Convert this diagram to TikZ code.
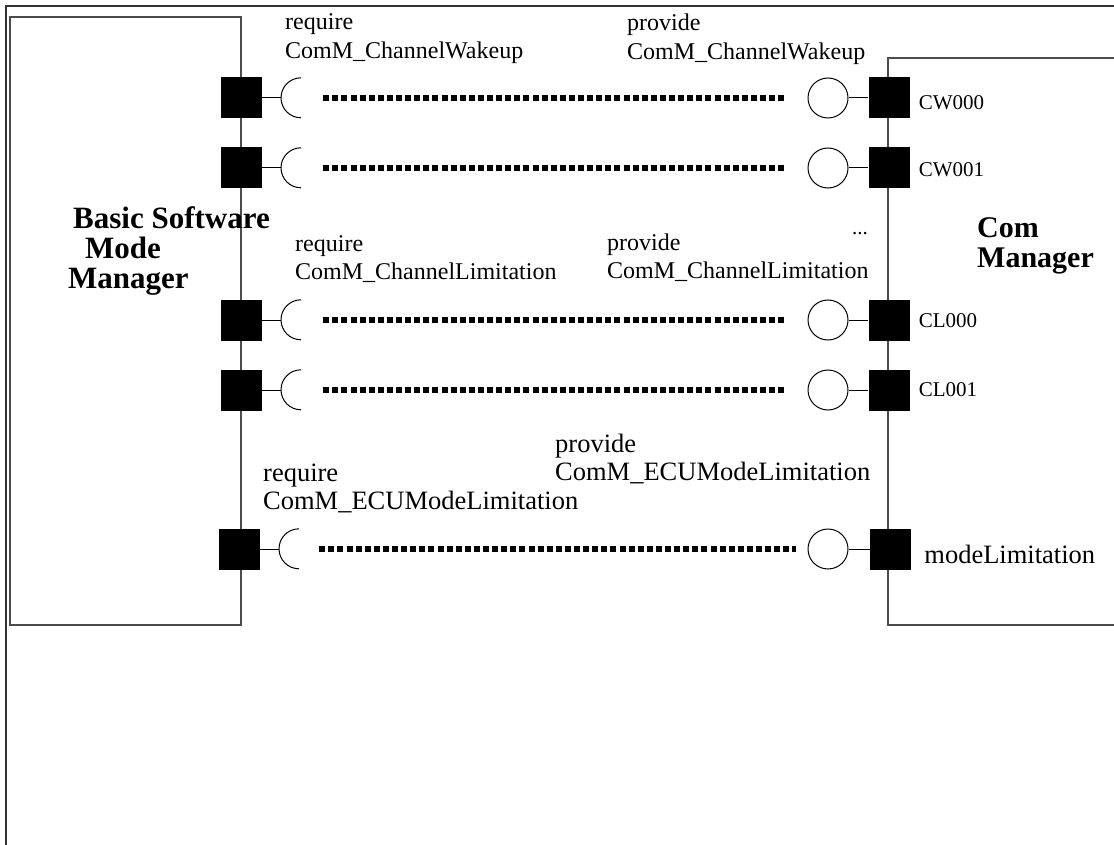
\documentclass[tikz,border=0pt]{standalone}
\usepackage{fontspec}
\setmainfont{Liberation Serif}
\usetikzlibrary{positioning}

\tikzset{
  frame/.style={draw=black!80, line width=2pt},
  compbox/.style={draw=black!70, line width=1.4pt},
  port/.style={fill=black, minimum size=41pt, inner sep=0pt},
  provport/.style={circle, draw, line width=1pt, minimum size=40pt, inner sep=0pt},
  reqport/.style={circle, minimum size=40pt, inner sep=0pt},
  wire/.style={line width=1pt},
  dotline/.style={line width=6pt, dash pattern=on 6pt off 3.1pt, shorten <=2pt, shorten >=21pt},
  ifname/.style={inner sep=0pt, align=left, anchor=north west, font=\fontsize{24}{29}\selectfont},
  portname/.style={inner sep=0pt, font=\fontsize{21}{24}\selectfont},
  compname/.style={inner sep=0pt, align=left, anchor=north west, font=\bfseries\fontsize{31}{30}\selectfont},
}

\begin{document}
\begin{tikzpicture}[x=1pt,y=-1pt]
    \useasboundingbox (0,0) rectangle (1114,845);
    % Frames
    \draw[frame] (6,845) -- (6,6) -- (1114,6);
    \draw[compbox] (10,17) rectangle (241,625);
    \draw[compbox] (1114,58) -- (888,58) -- (888,625) -- (1114,625);
    % Component names
    \node[compname] (bswm) at (68,206) {\hspace*{5pt}Basic Software\\\hspace*{17pt}Mode\\Manager};
    \node[compname, font=\bfseries\fontsize{30}{30}\selectfont] (comm) at (977,217) {Com\\Manager};
    % Ports of the mode manager
    \node[port] (lp1) at (241,98) {};
    \node[port] (lp2) at (241,168) {};
    \node[port] (lp3) at (241,320) {};
    \node[port] (lp4) at (241,390) {};
    \node[port] (lp5) at (239.5,549) {};
    % Ports of the com manager
    \node[port] (rp1) at (889,98) {};
    \node[port] (rp2) at (889,168) {};
    \node[port] (rp3) at (889,320) {};
    \node[port] (rp4) at (889,390) {};
    \node[port] (rp5) at (890.5,549) {};
    % Required interfaces
    \node[reqport] (req1) at (301,98) {};
    \node[reqport] (req2) at (301,168) {};
    \node[reqport] (req3) at (301,320) {};
    \node[reqport] (req4) at (301,390) {};
    \node[reqport] (req5) at (299,549) {};
    % Provided interfaces
    \node[provport] (prov1) at (828,98) {};
    \node[provport] (prov2) at (828,168) {};
    \node[provport] (prov3) at (828,320) {};
    \node[provport] (prov4) at (828,390) {};
    \node[provport] (prov5) at (828,549) {};
    % Sockets
    \draw[wire] (lp1) -- (req1.west);
    \draw[wire] (req1.north) arc (270:90:20);
    \draw[wire] (lp2) -- (req2.west);
    \draw[wire] (req2.north) arc (270:90:20);
    \draw[wire] (lp3) -- (req3.west);
    \draw[wire] (req3.north) arc (270:90:20);
    \draw[wire] (lp4) -- (req4.west);
    \draw[wire] (req4.north) arc (270:90:20);
    \draw[wire] (lp5) -- (req5.west);
    \draw[wire] (req5.north) arc (270:90:20);
    % Balls
    \draw[wire] (prov1) -- (rp1);
    \draw[wire] (prov2) -- (rp2);
    \draw[wire] (prov3) -- (rp3);
    \draw[wire] (prov4) -- (rp4);
    \draw[wire] (prov5) -- (rp5);
    % Connections
    \draw[dotline] (req1) -- (prov1);
    \draw[dotline] (req2) -- (prov2);
    \draw[dotline] (req3) -- (prov3);
    \draw[dotline] (req4) -- (prov4);
    \draw[dotline, shorten <=0pt, shorten >=12pt] (req5) -- (prov5);
    % Interface labels
    \node[ifname] (reqcw) at (285,13.6) {require\\ComM\_ChannelWakeup};
    \node[ifname] (provcw) at (627,13.6) {provide\\ComM\_ChannelWakeup};
    \node[ifname, font=\fontsize{24}{28}\selectfont] (reqcl) at (295,235.6) {require\\ComM\_ChannelLimitation};
    \node[ifname, font=\fontsize{24}{28}\selectfont] (provcl) at (607,233.6) {provide\\ComM\_ChannelLimitation};
    \node[ifname, font=\fontsize{26.5}{28}\selectfont] (reqem) at (263,464) {require\\ComM\_ECUModeLimitation};
    \node[ifname, font=\fontsize{26.5}{28}\selectfont] (provem) at (555,434) {provide\\ComM\_ECUModeLimitation};
    % Port labels
    \node[portname, right=9pt of rp1, yshift=-5pt] (cw0) {CW000};
    \node[portname, right=9pt of rp2, yshift=-2pt] (cw1) {CW001};
    \node[portname, right=9pt of rp3, yshift=-1pt] (cl0) {CL000};
    \node[portname, right=9pt of rp4] (cl1) {CL001};
    \node[portname, right=13pt of rp5, yshift=-5pt, font=\fontsize{26.5}{28}\selectfont] (ml) {modeLimitation};
    \node[portname, anchor=base west] (more) at (852,235) {...};
\end{tikzpicture}
\end{document}
